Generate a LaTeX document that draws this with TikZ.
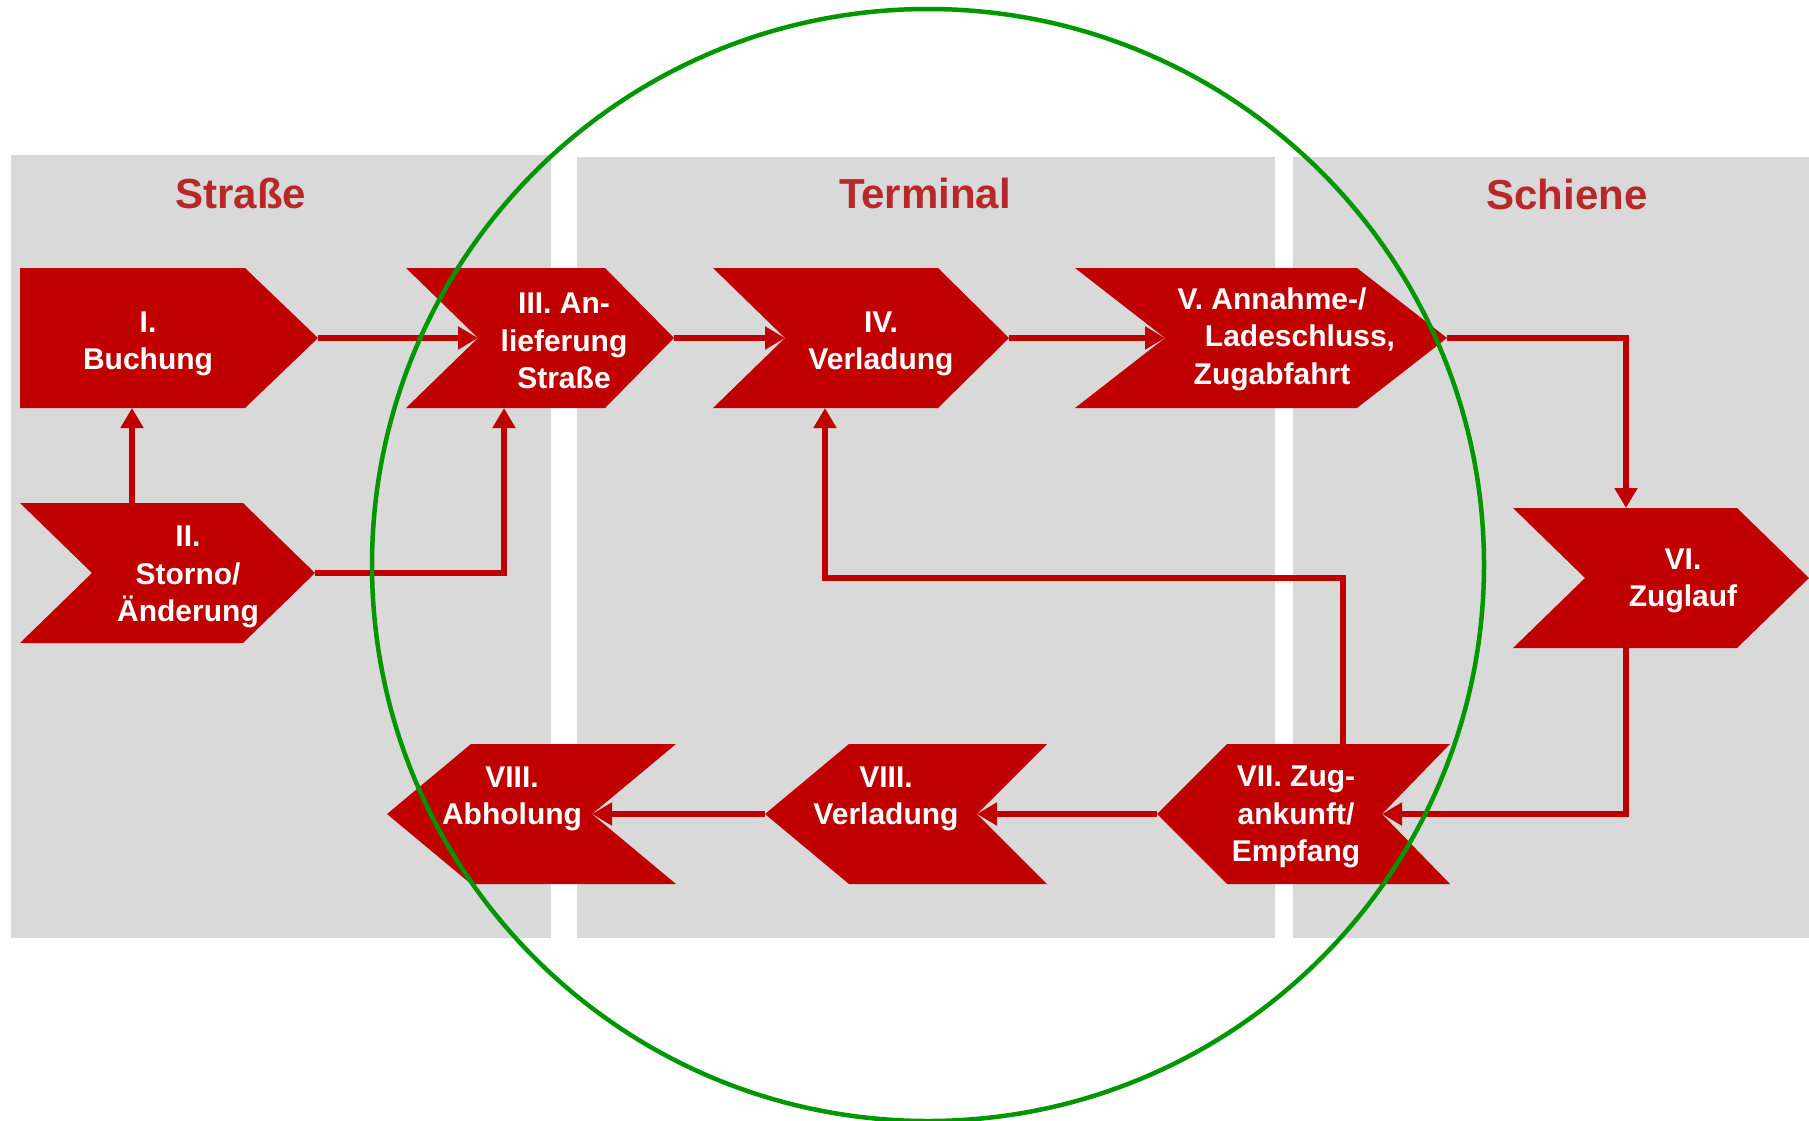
\documentclass[tikz,border=0pt]{standalone}
\usepackage{fontspec}
\setmainfont{Liberation Sans}
\usetikzlibrary{arrows.meta}
\definecolor{dbred}{RGB}{192,0,0}
\definecolor{panelgray}{RGB}{217,217,217}
\definecolor{titlered}{RGB}{185,40,40}
\definecolor{ringgreen}{RGB}{0,150,0}

% right-pointing chevron: name, left x, right x, centre y, notch depth, tip depth
\newcommand\chevronR[6]{%
  \fill[shapefill] (#2,#4-70) -- (#3-#6,#4-70) -- (#3,#4) -- (#3-#6,#4+70)
    -- (#2,#4+70) -- (#2+#5,#4) -- cycle;
  \coordinate (#1-in) at (#2+#5,#4);
  \coordinate (#1-out) at (#3,#4);}
% left-pointing chevron: name, tip x, right x, centre y, tip depth, notch depth
\newcommand\chevronL[6]{%
  \fill[shapefill] (#2,#4) -- (#2+#5,#4-70) -- (#3,#4-70) -- (#3-#6,#4)
    -- (#3,#4+70) -- (#2+#5,#4+70) -- cycle;
  \coordinate (#1-in) at (#3-#6,#4);
  \coordinate (#1-out) at (#2,#4);}

\begin{document}
\begin{tikzpicture}[x=1pt,y=-1pt,
  lanebox/.style={fill=panelgray},
  sectitle/.style={text=titlered,font=\fontsize{42}{50}\selectfont\bfseries},
  steptext/.style={text=white,align=center,inner sep=0pt,
    font=\fontsize{30}{37.5}\selectfont\bfseries},
  flowarrow/.style={draw=dbred,line width=6pt,
    -{Triangle[length=20pt,width=22pt]}},
  shapefill/.style={fill=dbred}]
\useasboundingbox (0,0) rectangle (1809,1120);

% lanes
\fill[lanebox] (11,155) rectangle (551,938);
\fill[lanebox] (577,157) rectangle (1275,938);
\fill[lanebox] (1293,157) rectangle (1809,938);

\node[sectitle] (h1) at (241,193) {Straße};
\node[sectitle] (h2) at (925,193) {Terminal};
\node[sectitle] (h3) at (1567,194) {Schiene};

% process steps
\chevronR{s1}{20}{318}{338}{0}{73}
\chevronR{s2}{20}{315}{573}{72}{72}
\chevronR{s3}{406}{674}{338}{72}{69}
\chevronR{s4}{713}{1009}{338}{72}{71}
\chevronR{s5}{1075}{1447}{338}{90}{90}
\chevronR{s6}{1513}{1809}{578}{72}{72}
\chevronL{s7}{1157}{1450}{814}{70}{68}
\chevronL{s8}{765}{1047}{814}{84}{70}
\chevronL{s9}{387}{676}{814}{84}{84}

\coordinate (s1-bot) at (132,408);
\coordinate (s2-top) at (132,503);
\coordinate (s3-bot) at (504,408);
\coordinate (s4-bot) at (825,408);
\coordinate (s6-top) at (1626,508);
\coordinate (s6-bot) at (1626,648);
\coordinate (s7-top) at (1343,744);
\coordinate (loop) at (825,578);

\node[steptext] (t1) at (148,344) {I.\\Buchung};
\node[steptext] (t2) at (188,577) {II.\\Storno/\\Änderung};
\node[steptext] (t3) at (564,341) {III. An-\\lieferung\\Straße};
\node[steptext] (t4) at (881,344) {IV.\\Verladung};
\node[steptext] (t5) at (1272,339) {V. Annahme-/\\\hspace*{56pt}Ladeschluss,\\Zugabfahrt};
\node[steptext] (t6) at (1683,581) {VI.\\Zuglauf};
\node[steptext] (t7) at (1296,817) {VII. Zug-\\ankunft/\\Empfang};
\node[steptext] (t8) at (886,799) {VIII.\\Verladung};
\node[steptext] (t9) at (512,799) {VIII.\\Abholung};

% flow
\draw[flowarrow] (s1-out) -- (s3-in);
\draw[flowarrow] (s2-top) -- (s1-bot);
\draw[flowarrow] (s2-out) -| (s3-bot);
\draw[flowarrow] (s3-out) -- (s4-in);
\draw[flowarrow] (s4-out) -- (s5-in);
\draw[flowarrow] (s5-out) -| (s6-top);
\draw[flowarrow] (s6-bot) |- (s7-in);
\draw[flowarrow] (s7-out) -- (s8-in);
\draw[flowarrow] (s8-out) -- (s9-in);
\draw[flowarrow] (s7-top) |- (loop) -- (s4-bot);

% highlight ring
\draw[ringgreen,line width=4.5pt] (928,565) circle[radius=556];
\end{tikzpicture}
\end{document}
